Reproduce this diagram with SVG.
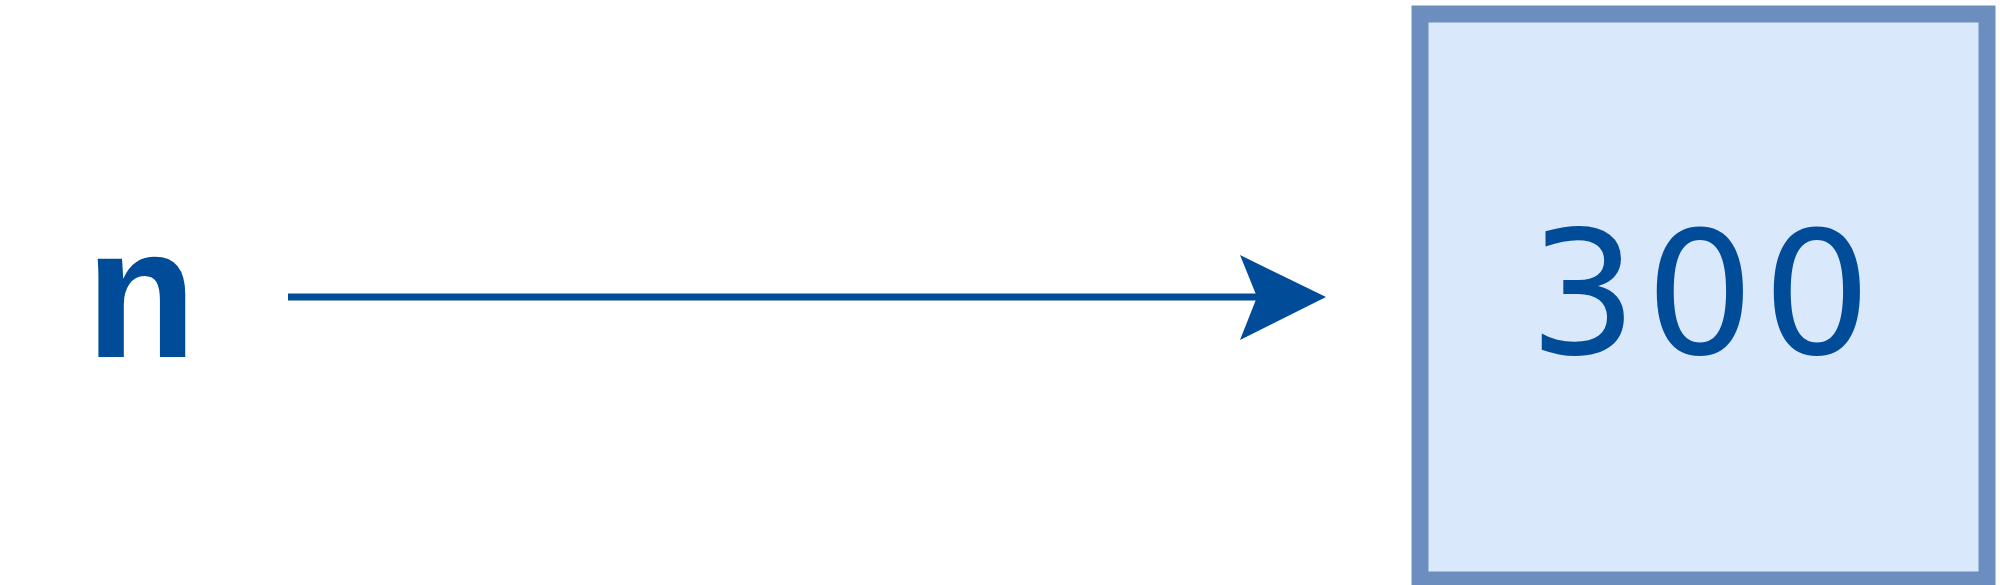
<svg xmlns="http://www.w3.org/2000/svg" width="2000" height="585" viewBox="0 0 2000 585">
<style>
.lbl{fill:#004C99;}
.box{fill:#dae8fc;stroke:#6c8ebf;stroke-width:17;}
.conn{stroke:#004C99;stroke-width:7;fill:none;}
.mono{font-family:"Liberation Mono","DejaVu Sans Mono",monospace;font-weight:bold;font-size:185px;}
.sans{font-family:"DejaVu Sans","Liberation Sans",sans-serif;font-size:171px;letter-spacing:8px;}
</style>
<rect x="0" y="0" width="2000" height="585" fill="#ffffff"/>
<g id="node-n">
<text class="lbl mono" x="141" y="357" text-anchor="middle">n</text>
</g>
<g id="node-300">
<rect class="box" x="1420" y="14" width="567" height="566"/>
<text class="lbl sans" x="1704" y="354" text-anchor="middle">300</text>
</g>
<g id="connectors">
<path class="conn" d="M288 297 H1262"/>
<path fill="#004C99" d="M1326 297 L1240 255 L1257 297 L1240 340 Z"/>
</g>
</svg>
